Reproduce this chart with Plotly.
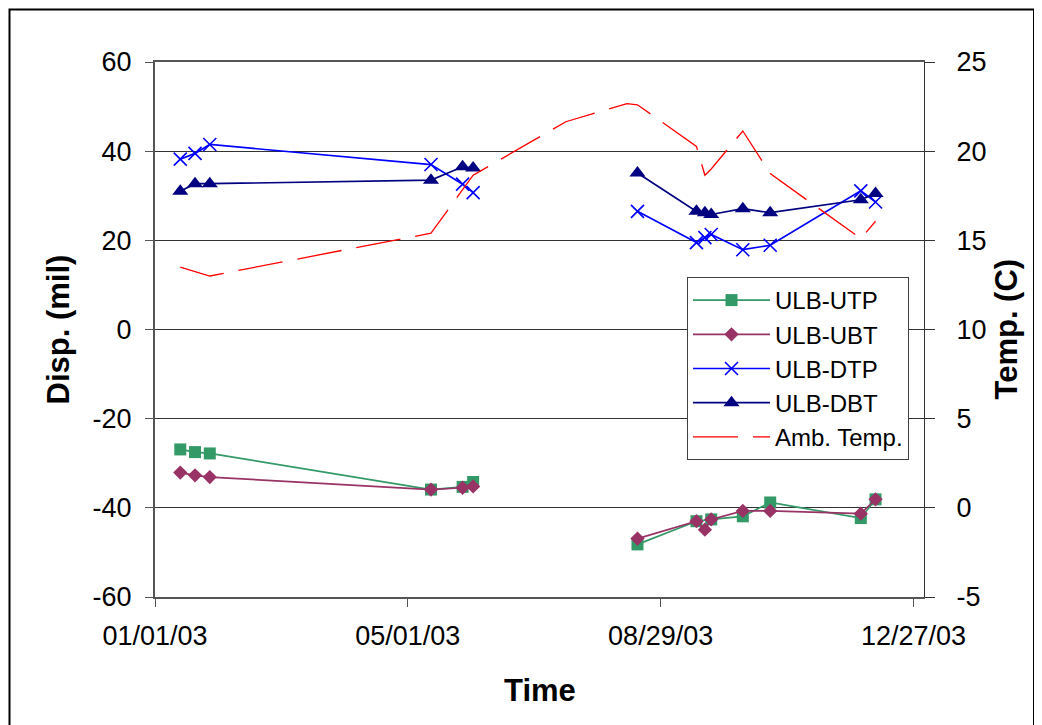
import plotly.graph_objects as go

# ---------------- data ----------------
disp_dates = ["2003-01-13", "2003-01-20", "2003-01-27", "2003-05-12", "2003-05-27", "2003-06-01",
              "2003-08-18", "2003-09-15", "2003-09-19", "2003-09-22", "2003-10-07", "2003-10-20",
              "2003-12-02", "2003-12-09"]
disp_campaign = [1, 1, 1, 1, 1, 1, 2, 2, 2, 2, 2, 2, 2, 2]
ulb_utp = [-26.9, -27.5, -27.8, -35.9, -35.3, -34.2, -48.2, -43.0, None, -42.6, -41.9, -38.8, -42.3, -38.1]
ulb_ubt = [-32.1, -32.7, -33.1, -35.9, -35.5, -35.2, -46.9, -43.0, -44.9, -42.6, -40.7, -40.7, -41.3, -38.1]
ulb_dtp = [38.2, 39.5, 41.5, 37.0, 32.6, 30.7, 26.5, 19.5, 20.6, 21.3, 17.9, 18.9, 31.1, 28.6]
ulb_dbt = [31.0, 32.7, 32.7, 33.5, 36.5, 36.2, 35.1, 26.5, 26.2, 25.8, 27.1, 26.2, 29.1, 30.5]

temp_dates = ["2003-01-13", "2003-01-27", "2003-05-12", "2003-06-01", "2003-07-15", "2003-08-13",
              "2003-08-18", "2003-09-15", "2003-09-19", "2003-09-22", "2003-10-07", "2003-10-20",
              "2003-12-02", "2003-12-09"]
amb_temp = [13.5, 13.0, 15.4, 18.65, 21.65, 22.67, 22.6, 20.27, 18.65, 19.0, 21.13, 18.74, 15.1, 16.07]

x_tick_vals = ["2003-01-01", "2003-05-01", "2003-08-29", "2003-12-27"]
x_tick_text = ["01/01/03", "05/01/03", "08/29/03", "12/27/03"]
disp_ticks = [-60, -40, -20, 0, 20, 40, 60]
temp_ticks = [-5, 0, 5, 10, 15, 20, 25]


def segments(dates, groups, vals):
    """Skip missing readings; break the line between measurement campaigns."""
    xs, ys, prev = [], [], None
    for d, g, v in zip(dates, groups, vals):
        if v is None:
            continue
        if prev is not None and g != prev:
            xs.append(None)
            ys.append(None)
        xs.append(d)
        ys.append(v)
        prev = g
    return xs, ys


FONT = "Liberation Sans, Arial, sans-serif"
fig = go.Figure()

series = [
    ("ULB-UTP", ulb_utp, "#339966", dict(symbol="square", size=12)),
    ("ULB-UBT", ulb_ubt, "#993366", dict(symbol="diamond", size=11)),
    ("ULB-DTP", ulb_dtp, "#0000FF", dict(symbol="x-thin-open", size=13, line=dict(width=1.6, color="#0000FF"))),
    ("ULB-DBT", ulb_dbt, "#000080", dict(symbol="triangle-up", size=14)),
]
for name, vals, col, mk in series:
    xs, ys = segments(disp_dates, disp_campaign, vals)
    mk = dict(mk)
    mk.setdefault("color", col)
    fig.add_trace(go.Scatter(x=xs, y=ys, name=name, mode="lines+markers",
                             line=dict(color=col, width=1.7), marker=mk,
                             connectgaps=False, yaxis="y"))

fig.add_trace(go.Scatter(x=temp_dates, y=amb_temp, name="Amb. Temp.", mode="lines",
                         line=dict(color="#FF0000", width=1.3, dash="45px,15px"),
                         yaxis="y2"))

# page has an 8px body margin: figure pixel = page pixel - 8
OFF = 8
W, H = 1042, 725
L, T = 155 - OFF, 62 - OFF
R = W - (924 - OFF)
B = H - (597 - OFF)
pw, ph = W - L - R, H - T - B


def px(xp):
    return (xp - OFF - L) / pw


def py(yp):
    return (H - B - (yp - OFF)) / ph


fig.update_layout(
    width=W, height=H,
    margin=dict(l=L, r=R, t=T, b=B),
    paper_bgcolor="white", plot_bgcolor="white",
    font=dict(family=FONT, color="black", size=27),
    showlegend=True,
    legend=dict(x=px(687), y=py(277), xanchor="left", yanchor="top",
                bgcolor="white", bordercolor="#404040", borderwidth=1,
                font=dict(size=24, family=FONT), tracegroupgap=0,
                itemwidth=77),
    xaxis=dict(type="date", range=["2003-01-01", "2004-01-01"],
               tickmode="array", tickvals=x_tick_vals, ticktext=x_tick_text,
               showgrid=False, zeroline=False,
               showline=True, linecolor="#555555", linewidth=1.5, mirror=True,
               ticks="outside", ticklen=8, tickcolor="#555555",
               ticklabelstandoff=6,
               tickfont=dict(size=27, family=FONT)),
    yaxis=dict(range=[-60, 60], tickmode="array", tickvals=disp_ticks,
               ticktext=[str(v) for v in disp_ticks],
               showgrid=True, gridcolor="#333333", gridwidth=1, zeroline=False,
               showline=True, linecolor="#555555", linewidth=2,
               ticks="outside", ticklen=8, tickcolor="#555555",
               ticklabelstandoff=8,
               tickfont=dict(size=27, family=FONT)),
    yaxis2=dict(range=[-5, 25], tickmode="array", tickvals=temp_ticks,
                ticktext=[str(v) for v in temp_ticks],
                overlaying="y", side="right", showgrid=False, zeroline=False,
                showline=True, linecolor="#333333", linewidth=1,
                ticks="outside", ticklen=10, tickcolor="#333333",
                ticklabelstandoff=16,
                tickfont=dict(size=27, family=FONT)),
    annotations=[
        dict(text="<b>Disp. (mil)</b>", xref="paper", yref="paper", x=px(58), y=0.5,
             textangle=-90, showarrow=False, font=dict(size=31, family=FONT),
             xanchor="center", yanchor="middle"),
        dict(text="<b>Temp. (C)</b>", xref="paper", yref="paper", x=px(1006), y=0.5,
             textangle=-90, showarrow=False, font=dict(size=31, family=FONT),
             xanchor="center", yanchor="middle"),
        dict(text="<b>Time</b>", xref="paper", yref="paper", x=0.5, y=py(690),
             showarrow=False, font=dict(size=31, family=FONT),
             xanchor="center", yanchor="middle"),
    ],
    shapes=[
        dict(type="rect", xref="paper", yref="paper",
             x0=px(9.5), x1=px(1034), y0=py(745), y1=py(9.5),
             line=dict(color="black", width=2), fillcolor="rgba(0,0,0,0)", layer="below"),
    ],
)

fig.write_html("out.html")
